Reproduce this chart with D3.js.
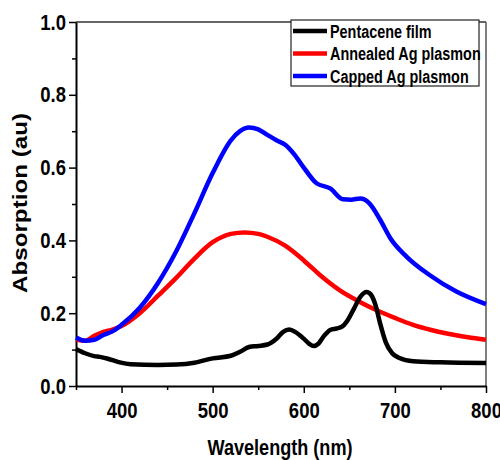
<!DOCTYPE html>
<html>
<head>
<meta charset="utf-8">
<script src="https://cdn.jsdelivr.net/npm/d3@7"></script>
<style>
  body { margin: 0; background: #fff; }
  .tick text { font-family: "Liberation Sans", Arial, sans-serif; font-weight: bold; font-size: 22px; fill: #000; }
  .legend text { font-family: "Liberation Sans", Arial, sans-serif; font-weight: bold; font-size: 18px; }
  .title { font-family: "Liberation Sans", Arial, sans-serif; font-weight: bold; fill: #000; }
</style>
</head>
<body>
<div id="output"></div>
<script>
// wavelengths (nm) and absorption (au)
const pentaceneNm = [350, 360, 370, 376, 385, 398, 410, 440, 460, 480, 500, 520, 530, 540, 550, 560, 570, 577, 584, 591, 600, 606, 611, 616, 622, 629, 636, 642, 648, 655, 662, 669, 674, 679, 684, 690, 697, 705, 720, 750, 800];
const pentaceneAbs = [0.102, 0.09, 0.082, 0.08, 0.075, 0.065, 0.06, 0.058, 0.059, 0.064, 0.076, 0.083, 0.094, 0.107, 0.11, 0.114, 0.13, 0.148, 0.155, 0.148, 0.13, 0.116, 0.11, 0.116, 0.137, 0.154, 0.158, 0.163, 0.18, 0.212, 0.245, 0.258, 0.25, 0.22, 0.17, 0.12, 0.09, 0.077, 0.068, 0.065, 0.063];

const annealedNm = [350, 360, 370, 380, 390, 400, 420, 440, 460, 480, 500, 520, 535, 550, 560, 580, 600, 620, 640, 660, 680, 700, 720, 740, 760, 780, 800];
const annealedAbs = [0.128, 0.124, 0.138, 0.149, 0.155, 0.165, 0.2, 0.248, 0.297, 0.35, 0.395, 0.418, 0.422, 0.418, 0.41, 0.385, 0.345, 0.3, 0.262, 0.233, 0.208, 0.187, 0.168, 0.154, 0.143, 0.134, 0.127];

const cappedNm = [350, 360, 370, 380, 390, 400, 420, 440, 460, 480, 500, 520, 530, 540, 550, 560, 570, 580, 590, 600, 614, 629, 643, 652, 662, 672, 684, 695, 713, 738, 768, 800];
const cappedAbs = [0.133, 0.124, 0.127, 0.14, 0.15, 0.168, 0.215, 0.283, 0.37, 0.475, 0.585, 0.675, 0.7, 0.71, 0.705, 0.69, 0.675, 0.662, 0.635, 0.6, 0.557, 0.543, 0.513, 0.512, 0.515, 0.502, 0.456, 0.406, 0.355, 0.305, 0.259, 0.225];

const seriesNames = ["Pentacene film", "Annealed Ag plasmon", "Capped Ag plasmon"];
const seriesColors = ["#000000", "#ff0000", "#0000ff"];
const xTicks = [400, 500, 600, 700, 800];
const yTicks = [0, 0.2, 0.4, 0.6, 0.8, 1.0];

const width = 500, height = 460;
const margin = { left: 76, right: 14, top: 22, bottom: 74 };

const svg = d3.select('#output').append('svg')
  .attr('width', width)
  .attr('height', height);

const x = d3.scaleLinear().domain([350, 800]).range([margin.left, width - margin.right]);
const y = d3.scaleLinear().domain([0, 1]).range([height - margin.bottom, margin.top]);

// squeeze a bold text horizontally, the reference uses a narrow face
function condense(sel, k) {
  sel.each(function() {
    const w = this.getComputedTextLength();
    d3.select(this).attr('textLength', w * k).attr('lengthAdjust', 'spacingAndGlyphs');
  });
}

// frame (top/right)
svg.append('line').attr('x1', x(350)).attr('x2', x(800)).attr('y1', y(1)).attr('y2', y(1))
  .attr('stroke', '#333').attr('stroke-width', 1.5);
svg.append('line').attr('x1', x(800)).attr('x2', x(800)).attr('y1', y(1)).attr('y2', y(0))
  .attr('stroke', '#555').attr('stroke-width', 1.5);

// minor ticks
svg.append('g').attr('transform', `translate(0,${y(0)})`)
  .call(d3.axisBottom(x).tickValues([350, 450, 550, 650, 750]).tickSize(4).tickFormat(''))
  .call(g => g.select('.domain').remove())
  .selectAll('line').attr('stroke-width', 1.5);
svg.append('g').attr('transform', `translate(${x(350)},0)`)
  .call(d3.axisLeft(y).tickValues([0.1, 0.3, 0.5, 0.7, 0.9]).tickSize(4).tickFormat(''))
  .call(g => g.select('.domain').remove())
  .selectAll('line').attr('stroke-width', 1.5);

// major axes
const xAxis = svg.append('g').attr('transform', `translate(0,${y(0)})`)
  .call(d3.axisBottom(x).tickValues(xTicks).tickSize(7).tickSizeOuter(0).tickPadding(9));
const yAxis = svg.append('g').attr('transform', `translate(${x(350)},0)`)
  .call(d3.axisLeft(y).tickValues(yTicks).tickSize(7).tickSizeOuter(0).tickPadding(3).tickFormat(d3.format('.1f')));
[xAxis, yAxis].forEach(a => {
  a.select('.domain').attr('stroke-width', 2);
  a.selectAll('.tick line').attr('stroke-width', 1.5);
  a.selectAll('.tick text').call(condense, 0.84);
});

// curves
const line = d3.line()
  .x(d => x(d[0]))
  .y(d => y(d[1]))
  .curve(d3.curveMonotoneX);

const series = [
  d3.zip(pentaceneNm, pentaceneAbs),
  d3.zip(annealedNm, annealedAbs),
  d3.zip(cappedNm, cappedAbs)
];

// black drawn last so it lies on top like the reference
[1, 2, 0].forEach(i => {
  svg.append('path')
    .datum(series[i])
    .attr('fill', 'none')
    .attr('stroke', seriesColors[i])
    .attr('stroke-width', 4.5)
    .attr('stroke-linejoin', 'round')
    .attr('d', line);
});

// legend
const legend = svg.append('g').attr('class', 'legend').attr('transform', 'translate(291,20)');
legend.append('rect').attr('width', 188).attr('height', 66)
  .attr('fill', '#fff').attr('stroke', '#222').attr('stroke-width', 1.2);
seriesNames.forEach((name, i) => {
  const ly = 11 + i * 22.5;
  legend.append('line').attr('x1', 2).attr('x2', 36).attr('y1', ly).attr('y2', ly)
    .attr('stroke', seriesColors[i]).attr('stroke-width', 4.5);
  legend.append('text').attr('x', 39).attr('y', ly + 6.5).text(name);
});
legend.selectAll('text').call(condense, 0.8);

// axis titles
svg.append('text').attr('class', 'title')
  .attr('x', 280).attr('y', 455)
  .attr('text-anchor', 'middle')
  .attr('font-size', 22)
  .attr('textLength', 145).attr('lengthAdjust', 'spacingAndGlyphs')
  .text('Wavelength (nm)');

svg.append('text').attr('class', 'title')
  .attr('transform', 'translate(27,203) rotate(-90)')
  .attr('text-anchor', 'middle')
  .attr('font-size', 20)
  .attr('textLength', 180).attr('lengthAdjust', 'spacingAndGlyphs')
  .text('Absorption (au)');
</script>
</body>
</html>
